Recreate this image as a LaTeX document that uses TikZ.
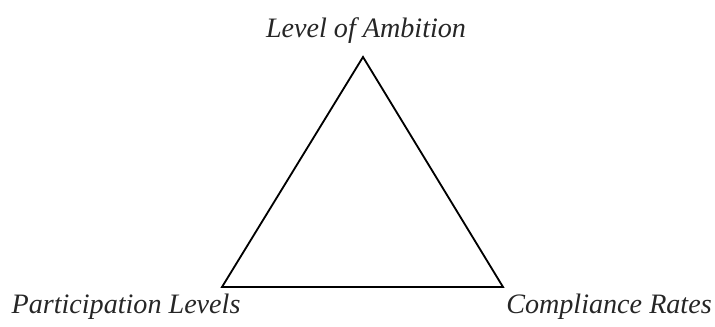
\documentclass[tikz,border=0pt]{standalone}
\usepackage{fontspec}
\setmainfont{Liberation Serif}
\usetikzlibrary{positioning}

\tikzset{
	corner/.style={font=\fontsize{20}{24}\selectfont\itshape, inner sep=0pt, text=black!85}
}

\begin{document}
\begin{tikzpicture}[x=0.025cm, y=-0.025cm, line width=1.3pt, line join=miter]
	\useasboundingbox (0,0) rectangle (715,327);
	% the three corners
	\coordinate (top) at (363,57);
	\coordinate (bl) at (222,287);
	\coordinate (br) at (503,287);
	\draw (top) -- (bl) -- (br) -- cycle;
	% labels at each corner
	\node [corner] (ambition) at (366,31) {Level of Ambition};
	\node [corner] (participation) at (126,307) {Participation Levels};
	\node [corner] (compliance) at (609,307) {Compliance Rates};
\end{tikzpicture}
\end{document}
